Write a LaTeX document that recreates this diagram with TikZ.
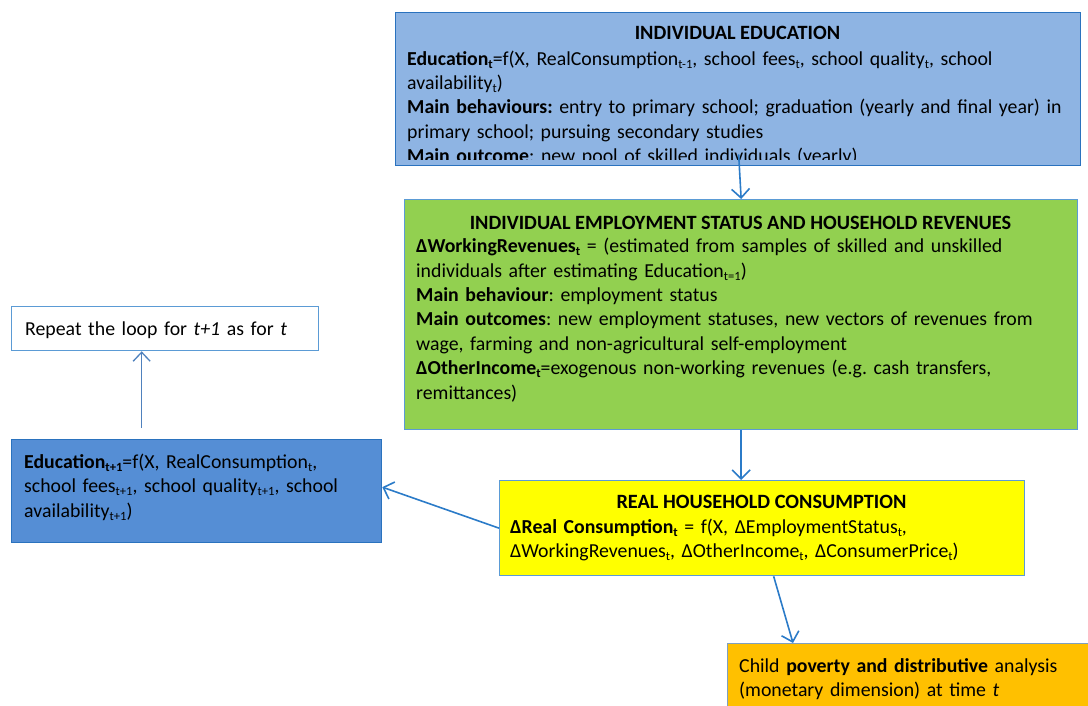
\documentclass[tikz,border=0pt]{standalone}
\usepackage{fontspec}
\setmainfont{Carlito}
\usetikzlibrary{arrows.meta,calc}

% small subscripts as used in the model equations
\newcommand\lo[1]{\raisebox{-3pt}{\fontsize{12.6}{12.6}\selectfont #1}}

\definecolor{edufill}{HTML}{8EB4E3}
\definecolor{empfill}{HTML}{92D050}
\definecolor{consfill}{HTML}{FFFF00}
\definecolor{nextfill}{HTML}{558ED5}
\definecolor{povfill}{HTML}{FFC000}
\definecolor{darkline}{HTML}{2A72BE}
\definecolor{lightline}{HTML}{5B9BD5}
\definecolor{arrowblue}{HTML}{2B7BC8}
\definecolor{softarrow}{HTML}{4F81BD}
\definecolor{greyline}{HTML}{7F9FBF}

\begin{document}
\frenchspacing
\begin{tikzpicture}[x=1pt,y=-1pt,
  font=\fontsize{19.8}{24.4}\selectfont,
  box/.style={line width=1.3pt, inner sep=0pt, anchor=north west},
  title/.style={font=\fontsize{20.3}{24.4}\selectfont\bfseries, anchor=base, inner sep=0pt},
  body/.style={anchor=north west, inner sep=0pt, text width=680pt, align=left},
  arr/.style={draw=arrowblue, line width=1.6pt,
    -{Straight Barb[length=9pt,width=18pt,line width=1.6pt]}},
  softarr/.style={draw=softarrow, line width=1.3pt,
    -{Straight Barb[length=9pt,width=17pt,line width=1.3pt]}}]

\clip (0,0) rectangle (1088,706);

% ---- boxes ----
\node[box, draw=darkline, fill=edufill, minimum width=685pt, minimum height=153pt] (edu) at (395,12) {};
\node[box, draw=lightline, fill=empfill, minimum width=673pt, minimum height=230pt] (emp) at (404,199) {};
\node[box, draw=lightline, fill=consfill, minimum width=525pt, minimum height=95pt] (cons) at (499,480) {};
\node[box, draw=darkline, fill=nextfill, minimum width=370pt, minimum height=103pt] (next) at (11,439) {};
\node[box, draw=lightline, fill=white, minimum width=307pt, minimum height=44pt] (loop) at (11,306) {};
\node[box, draw=greyline, fill=povfill, minimum width=400pt, minimum height=100pt] (pov) at (727,643) {};

% ---- individual education ----
\node[title] (edut) at (737.5,39.5) {INDIVIDUAL EDUCATION};
\begin{scope}
  \clip (395,12) rectangle (1080,160);
  \node[body] (edub) at (407,47.9) {\strut\textbf{Education\lo{t}}=f(X, RealConsumption\lo{t-1}, school fees\lo{t}, school quality\lo{t}, school\\
availability\lo{t})\\
\textbf{Main behaviours:} entry to primary school; graduation (yearly and final year) in\\
primary school; pursuing secondary studies\\
\textbf{Main outcome}: new pool of skilled individuals (yearly)};
\end{scope}

% ---- employment status and revenues ----
\node[title] (empt) at (740.5,229.5) {INDIVIDUAL EMPLOYMENT STATUS AND HOUSEHOLD REVENUES};
\node[body] (empb) at (416,235.5) {\strut\textbf{ΔWorkingRevenues\lo{t}} = (estimated from samples of skilled and unskilled\\
individuals after estimating Education\lo{t=1})\\
\textbf{Main behaviour}: employment status\\
\textbf{Main outcomes}: new employment statuses, new vectors of revenues from\\
wage, farming and non-agricultural self-employment\\
\textbf{ΔOtherIncome\lo{t}}=exogenous non-working revenues (e.g. cash transfers,\\
remittances)};

% ---- real household consumption ----
\node[title] (const) at (761.5,508) {REAL HOUSEHOLD CONSUMPTION};
\node[body] (consb) at (510,516) {\strut\textbf{ΔReal Consumption\lo{t}} = f(X, ΔEmploymentStatus\lo{t},\\
ΔWorkingRevenues\lo{t}, ΔOtherIncome\lo{t}, ΔConsumerPrice\lo{t})};

% ---- next period education ----
\node[body] (nextb) at (24,451) {\strut\textbf{Education\lo{t+1}}=f(X, RealConsumption\lo{t},\\
school fees\lo{t+1}, school quality\lo{t+1}, school\\
availability\lo{t+1})};

% ---- loop note ----
\node[body] (loopb) at (25,318) {\strut Repeat the loop for \textit{t+1} as for \textit{t}};

% ---- poverty analysis ----
\node[body] (povb) at (739,655) {\strut Child \textbf{poverty and distributive} analysis\\
(monetary dimension) at time \textit{t}};

% ---- connectors ----
\coordinate (eduout) at ([xshift=0.5pt,yshift=12pt]edu.south);
\draw[arr] (eduout) -- (emp.north);
\draw[arr] (emp.south) -- (emp.south |- cons.north);
\draw[arr] (cons.west) -- ([yshift=4pt]next.east);
\draw[arr] ([xshift=11.5pt]cons.south) -- ([xshift=66pt]pov.north west);
\draw[softarr] ([xshift=-55pt,yshift=11pt]next.north) -- ([xshift=-23.5pt]loop.south);

\end{tikzpicture}
\end{document}
